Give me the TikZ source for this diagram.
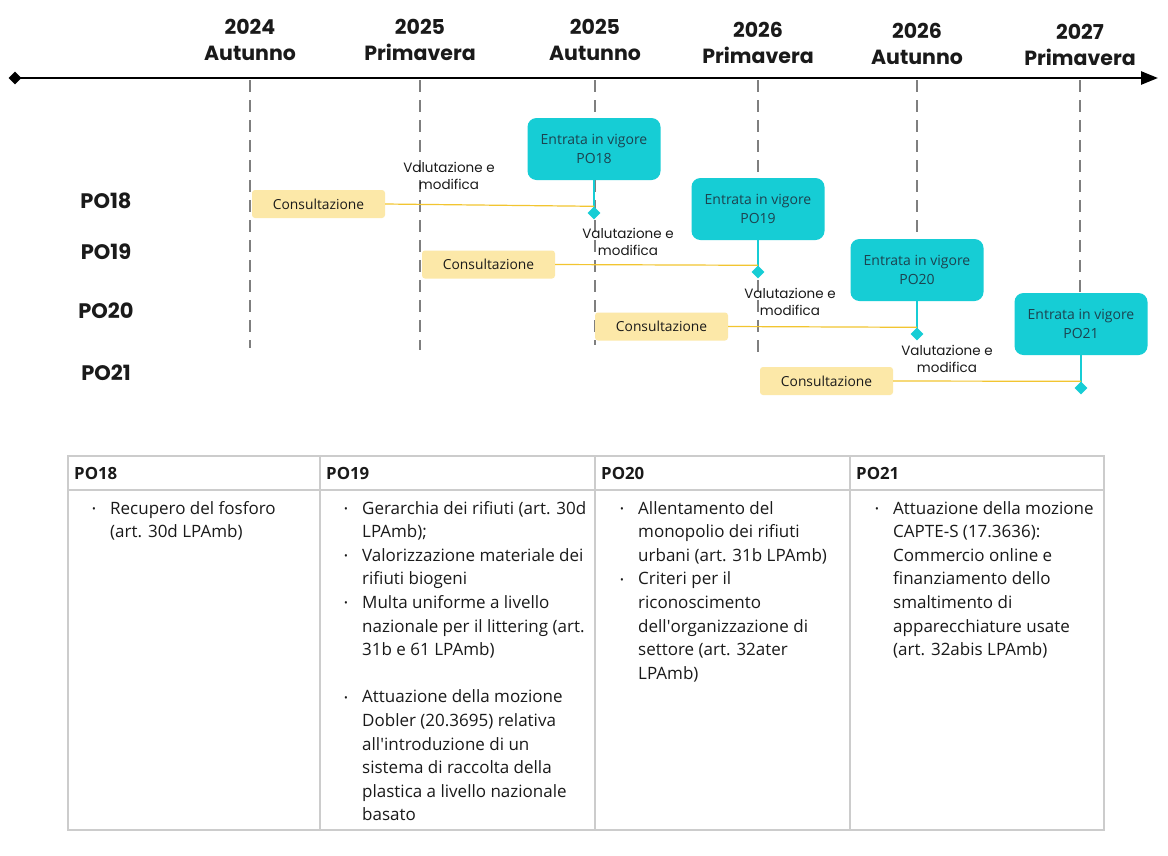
\documentclass[tikz,border=0pt]{standalone}
\usepackage{fontspec}
\setmainfont{Open Sans}
\newfontfamily\popfont{Poppins}
\usepackage{tikz}
\usetikzlibrary{positioning,shapes.geometric,arrows.meta,backgrounds}

\definecolor{vigore}{HTML}{16CDD5}
\definecolor{vigtext}{HTML}{1C4350}
\definecolor{consfill}{HTML}{FCE8A8}
\definecolor{consline}{HTML}{F2C530}
\definecolor{periodgray}{HTML}{7F7F7F}
\definecolor{tablegray}{HTML}{CCCCCC}
\definecolor{ink}{HTML}{1A1A1A}

\tikzset{
	head/.style={font=\popfont\bfseries\fontsize{20.5}{26}\selectfont, align=center, text=ink, inner sep=0pt},
	rowlabel/.style={font=\popfont\bfseries\fontsize{21}{24}\selectfont, text=ink, inner sep=0pt},
	periodline/.style={periodgray, line width=2pt, dash pattern=on 12pt off 8pt},
	timeline/.style={black, line width=2.6pt, -{Triangle[length=17pt,width=13pt]}},
	startmark/.style={diamond, fill=black, minimum size=13pt, inner sep=0pt},
	consbox/.style={fill=consfill, rounded corners=3pt, minimum width=133pt, minimum height=28pt, inner sep=0pt, font=\fontsize{13.8}{16}\selectfont, text=ink},
	consrun/.style={consline, line width=1.2pt},
	vigbox/.style={fill=vigore, rounded corners=9pt, minimum width=133pt, minimum height=62pt, inner sep=0pt, align=center, font=\fontsize{14}{19}\selectfont, text=vigtext},
	vigstem/.style={vigore, line width=2.5pt},
	milestone/.style={diamond, fill=vigore, minimum size=13pt, inner sep=0pt},
	evallabel/.style={font=\popfont\fontsize{13.5}{17}\selectfont, align=center, text=ink, inner sep=0pt},
	tablerule/.style={tablegray, line width=1.2pt},
	thead/.style={anchor=base west, font=\bfseries\fontsize{16.8}{18}\selectfont, text=ink, inner sep=0pt},
	cell/.style={anchor=base west, font=\fontsize{17}{19}\selectfont, text=ink, inner sep=0pt},
	bul/.style={anchor=base, font=\fontsize{10}{12}\selectfont, text=ink, inner sep=0pt}
}

\begin{document}
\begin{tikzpicture}[x=1pt, y=-1pt]
	\useasboundingbox (0,0) rectangle (1168,855);
	
	\node[head] (h1) at (250,40) {2024\\Autunno};
	\node[head] (h2) at (420,40) {2025\\Primavera};
	\node[head] (h3) at (595,40) {2025\\Autunno};
	\node[head] (h4) at (758,42.5) {2026\\Primavera};
	\node[head] (h5) at (917,43.5) {2026\\Autunno};
	\node[head] (h6) at (1080,44.5) {2027\\Primavera};
	
	\node[rowlabel] (r18) at (106,201) {PO18};
	\node[rowlabel] (r19) at (106,252) {PO19};
	\node[rowlabel] (r20) at (106,311) {PO20};
	\node[rowlabel] (r21) at (106,373) {PO21};
	
	\node[consbox] (c18) at (318.5,204) {Consultazione};
	\node[consbox] (c19) at (488.5,264.5) {Consultazione};
	\node[consbox] (c20) at (661.5,326.5) {Consultazione};
	\node[consbox] (c21) at (826.5,381) {Consultazione};
	
	\node[vigbox] (v18) at (594,149) {Entrata in vigore\\PO18};
	\node[vigbox] (v19) at (758,209) {Entrata in vigore\\PO19};
	\node[vigbox] (v20) at (917,270) {Entrata in vigore\\PO20};
	\node[vigbox] (v21) at (1081,324) {Entrata in vigore\\PO21};
	
	\node[evallabel] (e18) at (449,176) {Valutazione e\\modifica};
	\node[evallabel] (e19) at (628,242) {Valutazione e\\modifica};
	\node[evallabel] (e20) at (790,302) {Valutazione e\\modifica};
	\node[evallabel] (e21) at (947,359) {Valutazione e\\modifica};
	
	\begin{scope}[on background layer]
		\fill[white] (0,0) rectangle (1168,855);
		\foreach \px/\py in {250/348, 420/350, 595/345, 758/355, 917/330, 1080/295}
			\draw[periodline] (\px,80) -- (\px,\py);
		\draw[vigstem] (v18.south) -- (594,213);
		\draw[vigstem] (v19.south) -- (758,272);
		\draw[vigstem] (v20.south) -- (917,334);
		\draw[vigstem] (v21.south) -- (1081,388);
	\end{scope}
	
	\node[milestone] (m18) at (594,213) {};
	\node[milestone] (m19) at (758,272) {};
	\node[milestone] (m20) at (917,334) {};
	\node[milestone] (m21) at (1081,388) {};
	
	\draw[consrun] (c18.east) -- (m18.north);
	\draw[consrun] (c19.east) -- (m19.north);
	\draw[consrun] (c20.east) -- (m20.north);
	\draw[consrun] (c21.east) -- (m21.north);
	
	\node[startmark] (t0) at (15,78) {};
	\coordinate (tend) at (1158,78);
	\draw[timeline] (t0.center) -- (tend);
	
	\draw[tablerule] (68,456) rectangle (1104,830);
	\draw[tablerule] (68,490) -- (1104,490);
	\foreach \cx in {320,595,850}
		\draw[tablerule] (\cx,456) -- (\cx,830);
	
	\node[thead] (th18) at (74,479) {PO18};
	\node[thead] (th19) at (326,479) {PO19};
	\node[thead] (th20) at (601,479) {PO20};
	\node[thead] (th21) at (856,479) {PO21};
	
	\foreach \txt [count=\i from 0] in {Recupero del fosforo, (art. 30d LPAmb)}
		\node[cell] (a\i) at (110,514+23.6*\i) {\txt};
	\foreach \i in {0}
		\node[bul] at (94,512.5+23.6*\i) {•};
	
	\foreach \txt [count=\i from 0] in {Gerarchia dei rifiuti (art. 30d, LPAmb);, Valorizzazione materiale dei, rifiuti biogeni, Multa uniforme a livello, nazionale per il littering (art., 31b e 61 LPAmb), {}, Attuazione della mozione, Dobler (20.3695) relativa, all\textquotesingle introduzione di un, sistema di raccolta della, plastica a livello nazionale, basato}
		\node[cell] (b\i) at (362,514+23.6*\i) {\txt};
	\foreach \i in {0,2,4,8}
		\node[bul] at (346,512.5+23.6*\i) {•};
	
	\foreach \txt [count=\i from 0] in {Allentamento del, monopolio dei rifiuti, urbani (art. 31b LPAmb), Criteri per il, riconoscimento, dell\textquotesingle organizzazione di, settore (art. 32ater, LPAmb)}
		\node[cell] (d\i) at (638,514+23.6*\i) {\txt};
	\foreach \i in {0,3}
		\node[bul] at (622,512.5+23.6*\i) {•};
	
	\foreach \txt [count=\i from 0] in {Attuazione della mozione, CAPTE-S (17.3636):, Commercio online e, finanziamento dello, smaltimento di, apparecchiature usate, (art. 32abis LPAmb)}
		\node[cell] (f\i) at (893,514+23.6*\i) {\txt};
	\foreach \i in {0}
		\node[bul] at (877,512.5+23.6*\i) {•};
	
\end{tikzpicture}
\end{document}
